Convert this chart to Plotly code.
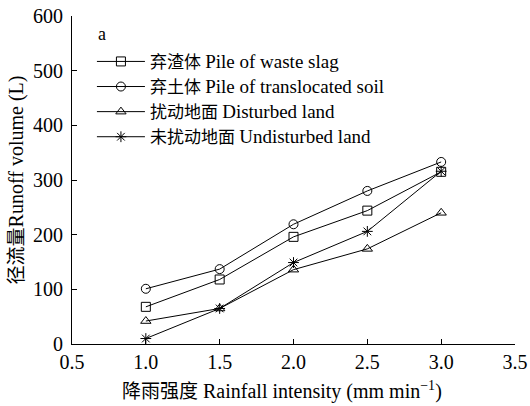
import plotly.graph_objects as go

x_vals = [1.0, 1.5, 2.0, 2.5, 3.0]
slag = [68, 118, 196, 244, 315]
soil = [101, 137, 219, 280, 333]
disturbed = [42, 65, 136, 174, 240]
undisturbed = [10, 65, 149, 206, 316]

cn_names = ["弃渣体", "弃土体", "扰动地面", "未扰动地面"]
en_names = ["Pile of waste slag", "Pile of translocated soil",
            "Disturbed land", "Undisturbed land"]
symbols = ["square-open", "circle-open", "triangle-up-open", "asterisk-open"]
series = [slag, soil, disturbed, undisturbed]

FONT = "Liberation Serif, Times New Roman, Noto Sans CJK SC, serif"

fig = go.Figure()
for cn, en, sym, ys in zip(cn_names, en_names, symbols, series):
    fig.add_trace(go.Scatter(
        x=x_vals, y=ys, mode="lines+markers",
        name=f'<span style="font-size:17px">{cn}</span> <span style="font-size:19px">{en}</span>',
        line=dict(color="black", width=1),
        marker=dict(symbol=sym, size=9, color="black", line=dict(color="black", width=1)),
    ))

fig.update_layout(
    width=530, height=406,
    margin=dict(l=72, r=15, t=16, b=62),
    paper_bgcolor="white", plot_bgcolor="white",
    font=dict(family=FONT, color="black", size=20),
    showlegend=True,
    legend=dict(x=0.045, y=0.915, xanchor="left", yanchor="top",
                font=dict(size=17, family=FONT), bgcolor="rgba(0,0,0,0)",
                tracegroupgap=0, itemwidth=48),
    xaxis=dict(range=[0.5, 3.5], tickvals=[0.5, 1.0, 1.5, 2.0, 2.5, 3.0, 3.5],
               ticktext=["0.5", "1.0", "1.5", "2.0", "2.5", "3.0", "3.5"],
               showline=True, linecolor="black", linewidth=1, ticks="inside",
               ticklen=5, tickcolor="black", showgrid=False, zeroline=False,
               automargin=False, tickfont=dict(size=20)),
    yaxis=dict(range=[0, 600], tickvals=[0, 100, 200, 300, 400, 500, 600],
               showline=True, linecolor="black", linewidth=1, ticks="inside",
               ticklen=5, tickcolor="black", showgrid=False, zeroline=False,
               automargin=False, tickfont=dict(size=20), ticklabelstandoff=4,
               title=dict(text='<span style="font-size:19px">径流量</span>Runoff volume (L)',
                          standoff=4, font=dict(size=20))),
    annotations=[
        dict(text="a", x=0.055, y=0.945, xref="paper", yref="paper",
             xanchor="left", yanchor="middle", showarrow=False,
             font=dict(size=18, family=FONT)),
        dict(text='<span style="font-size:19px">降雨强度</span> Rainfall intensity (mm min<sup>−1</sup>)',
             x=0.473, y=-0.143, xref="paper", yref="paper",
             xanchor="center", yanchor="middle", showarrow=False,
             font=dict(size=20, family=FONT)),
    ],
)

fig.write_html("out.html", config={"displayModeBar": False},
               post_script="document.body.style.margin='0';document.body.style.padding='0';")
